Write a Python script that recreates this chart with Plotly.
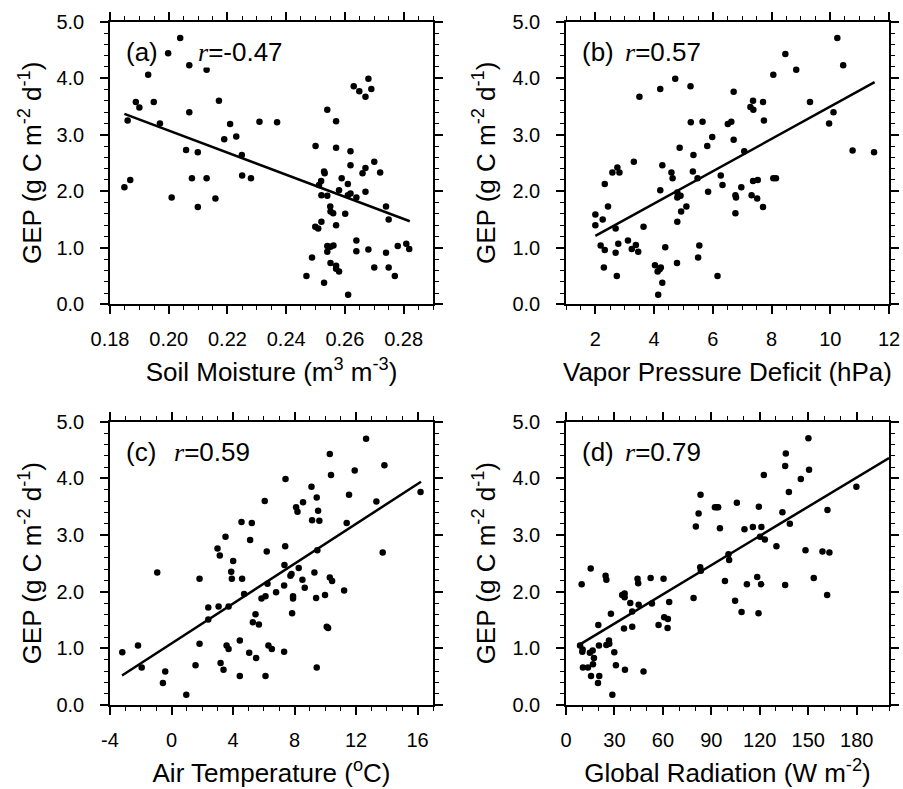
import plotly.graph_objects as go

# GEP values read per panel (g C m-2 d-1)
sm = [0.1849, 0.1869, 0.1860, 0.1888, 0.1900, 0.1949, 0.1970, 0.2039, 0.2070, 0.2129,
      0.2070, 0.2171, 0.2059, 0.2099, 0.2079, 0.2129, 0.2010, 0.2099, 0.2159, 0.2189,
      0.2209, 0.2230, 0.2249, 0.2250, 0.2280, 0.2309, 0.2369, 0.1998, 0.1930,
      0.2469, 0.2488, 0.2500, 0.2499, 0.2509, 0.2520, 0.2519, 0.2512, 0.2520, 0.2529,
      0.2531, 0.2529, 0.2540, 0.2540, 0.2540, 0.2540, 0.2551, 0.2550, 0.2551, 0.2560,
      0.2551, 0.2561, 0.2570, 0.2570, 0.2570, 0.2570, 0.2570, 0.2580, 0.2580, 0.2589,
      0.2601, 0.2610, 0.2610, 0.2611, 0.2619, 0.2619, 0.2619, 0.2630, 0.2639, 0.2639,
      0.2639, 0.2649, 0.2660, 0.2670, 0.2670, 0.2670, 0.2680, 0.2690, 0.2680, 0.2700,
      0.2700, 0.2720, 0.2740, 0.2749, 0.2740, 0.2749, 0.2770, 0.2780, 0.2809, 0.2819]
gep_sm = [2.07, 2.20, 3.25, 3.58, 3.48, 3.58, 3.20, 4.71, 4.23, 4.15,
          3.40, 3.60, 2.73, 2.69, 2.23, 2.23, 1.89, 1.72, 1.87, 2.92,
          3.19, 2.97, 2.64, 2.28, 2.23, 3.23, 3.22, 4.44, 4.06,
          0.50, 0.83, 2.80, 1.37, 1.34, 1.46, 2.18, 2.11, 1.93, 2.35,
          2.32, 0.38, 3.44, 1.92, 1.03, 0.93, 1.02, 1.73, 1.64, 1.61,
          0.73, 1.04, 3.24, 2.77, 1.40, 0.68, 0.63, 0.58, 2.02, 2.23,
          1.60, 2.13, 1.93, 0.17, 2.71, 2.46, 1.96, 3.86, 1.89, 1.13,
          0.94, 3.77, 2.32, 3.67, 2.41, 1.99, 3.99, 3.81, 0.97, 2.52,
          0.65, 2.33, 1.73, 1.50, 0.91, 0.65, 0.50, 1.03, 1.07, 0.98]

vpd = [2.00, 2.00, 2.25, 2.32, 2.18, 2.32, 2.29, 2.43, 2.58, 2.75,
       2.82, 2.69, 2.69, 2.78, 2.73, 3.11, 3.24, 3.31, 3.38, 3.46,
       3.50, 3.64, 4.03, 4.12, 4.23, 4.19, 4.28, 4.14, 4.21, 4.21,
       4.28, 4.38, 4.72, 4.59, 4.63, 4.79, 4.79, 4.79, 4.78, 4.87,
       4.90, 4.92, 5.10, 5.24, 5.25, 5.34, 5.32, 5.48, 5.54, 5.50,
       5.65, 5.81, 5.84, 5.98, 6.16, 6.27, 6.33, 6.51, 6.63, 6.71,
       6.71, 6.77, 6.79, 6.77, 6.97, 7.07, 7.28, 7.37, 7.38, 7.32,
       7.37, 7.53, 7.51, 7.71, 7.74, 7.71, 8.06, 8.06, 8.15, 8.47,
       8.84, 9.31, 9.96, 10.11, 10.24, 10.44, 10.76, 11.49]
gep_vpd = [1.59, 1.40, 1.50, 2.13, 1.04, 0.96, 0.65, 1.73, 2.33, 2.42,
           2.33, 1.34, 0.91, 1.07, 0.50, 1.13, 0.98, 2.52, 1.05, 0.93,
           3.67, 1.37, 0.69, 0.58, 0.65, 0.62, 0.38, 0.17, 3.81, 2.02,
           2.46, 1.01, 3.99, 2.33, 2.23, 1.98, 1.89, 1.46, 0.73, 2.77,
           1.92, 1.64, 1.73, 3.86, 3.22, 2.64, 2.35, 2.23, 1.04, 0.83,
           3.23, 2.80, 1.99, 2.96, 0.50, 2.28, 2.11, 3.19, 3.23, 3.76,
           2.91, 1.93, 1.89, 1.61, 2.07, 2.71, 3.49, 3.60, 3.44, 1.93,
           2.18, 2.20, 1.87, 3.58, 3.25, 1.72, 4.06, 2.23, 2.23, 4.43,
           4.15, 3.58, 3.20, 3.40, 4.71, 4.23, 2.72, 2.69]

ta = [-3.20, -2.18, -1.94, -0.93, -0.56, -0.41, 0.96, 1.56, 1.82, 1.82,
      2.39, 2.39, 2.99, 3.06, 3.14, 3.19, 3.38, 3.51, 3.58, 3.71,
      3.71, 3.88, 3.92, 4.01, 4.44, 4.44, 4.55, 4.59, 4.72, 5.05,
      5.11, 5.22, 5.29, 5.46, 5.50, 5.68, 5.85, 6.06, 6.11, 6.11,
      6.19, 6.24, 6.30, 6.52, 6.80, 7.32, 7.32, 7.34, 7.39, 7.41,
      7.73, 7.80, 7.84, 7.90, 7.90, 8.10, 8.19, 8.27, 8.51, 8.55,
      8.66, 9.10, 9.14, 9.29, 9.40, 9.44, 9.44, 9.48, 9.53, 9.61,
      9.98, 10.09, 10.18, 10.29, 10.29, 10.44, 10.37, 11.22, 11.39, 11.54,
      11.91, 12.65, 13.32, 13.73, 13.84, 16.19]
gep_ta = [0.93, 1.05, 0.66, 2.34, 0.39, 0.59, 0.18, 0.70, 2.23, 1.08,
          1.72, 1.51, 2.76, 1.74, 2.64, 0.74, 0.62, 2.97, 1.05, 1.74,
          0.99, 2.35, 2.23, 2.54, 1.14, 0.51, 3.23, 2.23, 1.96, 0.92,
          2.91, 3.21, 1.46, 1.60, 0.83, 1.42, 1.88, 3.60, 1.92, 0.51,
          2.71, 2.14, 1.05, 0.99, 1.99, 2.11, 0.94, 2.47, 2.80, 3.99,
          2.28, 2.31, 1.62, 1.92, 1.88, 3.49, 3.41, 2.42, 2.21, 3.58,
          2.07, 3.85, 3.26, 2.34, 1.89, 3.66, 0.66, 2.73, 3.43, 3.25,
          1.94, 1.38, 1.36, 4.43, 2.25, 2.19, 4.06, 2.02, 3.21, 3.71,
          4.14, 4.70, 3.59, 2.69, 4.23, 3.76]

rad = [8.7, 9.7, 10.3, 10.1, 10.5, 13.6, 14.8, 15.3, 15.5, 16.5,
       16.7, 17.3, 19.8, 20.0, 20.4, 20.6, 24.5, 25.0, 25.0, 26.6,
       26.8, 27.8, 28.7, 29.9, 30.9, 34.8, 35.9, 36.3, 36.3, 36.5,
       39.8, 41.0, 41.0, 44.3, 44.7, 45.0, 48.0, 52.4, 53.2, 57.3,
       60.4, 60.8, 63.1, 62.9, 63.9, 79.0, 80.4, 82.1, 83.3, 83.1,
       83.5, 92.2, 93.4, 94.2, 95.3, 98.4, 100.6, 101.0, 104.7, 105.8,
       108.7, 110.5, 112.0, 115.7, 118.4, 119.2, 119.4, 121.0, 120.8, 120.2,
       122.5, 123.1, 130.3, 134.0, 135.7, 136.1, 135.7, 138.0, 138.6, 145.4,
       148.3, 150.1, 150.5, 153.4, 158.8, 161.9, 161.7, 163.1, 179.8]
gep_rad = [1.05, 2.13, 0.98, 0.94, 0.66, 0.66, 0.92, 2.41, 0.51, 0.96,
           0.72, 0.83, 0.39, 1.41, 1.05, 0.51, 2.28, 2.21, 1.06, 1.14,
           1.08, 1.61, 0.18, 0.93, 0.70, 1.94, 1.35, 1.97, 1.90, 0.62,
           1.80, 1.65, 1.38, 2.23, 2.15, 1.77, 0.59, 2.24, 1.79, 1.41,
           2.23, 1.55, 1.52, 1.36, 1.82, 1.89, 3.15, 3.38, 3.71, 2.43,
           2.37, 3.49, 3.49, 3.49, 3.12, 2.19, 2.66, 2.56, 1.84, 3.57,
           1.64, 3.10, 2.13, 3.14, 2.26, 1.62, 3.50, 3.14, 2.13, 2.97,
           4.06, 2.92, 2.80, 3.40, 4.22, 4.44, 2.12, 3.76, 3.20, 3.99,
           2.73, 4.71, 4.15, 2.24, 2.71, 3.44, 1.94, 2.69, 3.85]

# regression line end points
fit_sm_x, fit_sm_y = [0.1849, 0.2821], [3.37, 1.47]
fit_vpd_x, fit_vpd_y = [2.0, 11.51], [1.21, 3.93]
fit_ta_x, fit_ta_y = [-3.22, 16.22], [0.52, 3.94]
fit_rad_x, fit_rad_y = [8.66, 200.0], [1.07, 4.36]

r_values = ["-0.47", "0.57", "0.59", "0.79"]
panel_tags = ["(a)", "(b)", "(c)", "(d)"]

# tick labels (air temperature uses a plain hyphen for negatives)
ta_ticks = [-4, 0, 4, 8, 12, 16]
ta_ticklabels = ["-4", "0", "4", "8", "12", "16"]

FONT = "Liberation Sans, Arial, sans-serif"
W, H = 903, 789


def px_dom(a, b, total):
    return [a / total, b / total]


panels = [
    dict(x=sm, y=gep_sm, fx=fit_sm_x, fy=fit_sm_y, col=(110, 433), row=(21.7, 304.3),
         xr=[0.18, 0.29], dt=0.02, mdt=0.005, fmt=".2f", ytx=30,
         title="Soil Moisture (m<sup>3</sup> m<sup>-3</sup>)", rx=0.269),
    dict(x=vpd, y=gep_vpd, fx=fit_vpd_x, fy=fit_vpd_y, col=(566, 889), row=(21.7, 304.3),
         xr=[1, 12], dt=2, mdt=0.5, fmt="d", ytx=484,
         title="Vapor Pressure Deficit (hPa)", rx=0.18),
    dict(x=ta, y=gep_ta, fx=fit_ta_x, fy=fit_ta_y, col=(110, 433), row=(421.7, 705),
         xr=[-4, 17], dt=4, mdt=1, fmt="d", ytx=30,
         title="Air Temperature (<sup>o</sup>C)", rx=0.194),
    dict(x=rad, y=gep_rad, fx=fit_rad_x, fy=fit_rad_y, col=(566, 889), row=(421.7, 705),
         xr=[0, 200], dt=30, mdt=10, fmt="d", ytx=484,
         title="Global Radiation (W m<sup>-2</sup>)", rx=0.18),
]

fig = go.Figure()
layout = {}
annotations = []
for i, p in enumerate(panels):
    n = "" if i == 0 else str(i + 1)
    fig.add_trace(go.Scatter(x=p["x"], y=p["y"], mode="markers",
                             marker=dict(size=6.5, color="black"),
                             xaxis="x" + n, yaxis="y" + n, showlegend=False))
    fig.add_trace(go.Scatter(x=p["fx"], y=p["fy"], mode="lines",
                             line=dict(color="black", width=2.5),
                             xaxis="x" + n, yaxis="y" + n, showlegend=False))
    common = dict(showline=True, linecolor="black", linewidth=1.5, mirror="ticks",
                  ticks="outside", ticklen=8, tickwidth=1.5, tickcolor="black",
                  showgrid=False, zeroline=False, automargin=False,
                  tickfont=dict(family=FONT, size=20, color="black"))
    xa = dict(
        common, domain=px_dom(*p["col"], W), anchor="y" + n, range=p["xr"],
        tick0=0, dtick=p["dt"], tickformat=p["fmt"], ticklabelstandoff=8,
        minor=dict(ticks="outside", ticklen=4, tickwidth=1, dtick=p["mdt"],
                   tick0=0, tickcolor="black"),
        title=dict(text=p["title"], standoff=14,
                   font=dict(family=FONT, size=26, color="black")))
    if i == 2:
        xa.update(tickmode="array", tickvals=ta_ticks, ticktext=ta_ticklabels)
    layout["xaxis" + n] = xa
    layout["yaxis" + n] = dict(
        common, domain=[1 - p["row"][1] / H, 1 - p["row"][0] / H], anchor="x" + n,
        range=[0, 5], dtick=1, tickformat=".1f", ticklabelstandoff=12,
        minor=dict(ticks="outside", ticklen=4, tickwidth=1, dtick=0.2,
                   tickcolor="black"))
    xref = "x" + n + " domain"
    yref = "y" + n + " domain"
    annotations.append(dict(text="GEP (g C m<sup>-2</sup> d<sup>-1</sup>)",
                            textangle=-90, xref="paper", x=p["ytx"] / W, yref=yref, y=0.5,
                            xanchor="center", yanchor="middle", showarrow=False,
                            font=dict(family=FONT, size=26, color="black")))
    annotations.append(dict(text=panel_tags[i], xref=xref, yref=yref, x=0.045, y=0.893,
                            xanchor="left", yanchor="middle", showarrow=False,
                            bgcolor="white", borderpad=0,
                            font=dict(family=FONT, size=26, color="black")))
    annotations.append(dict(
        text="<span style=\"font-family:Liberation Serif;font-style:italic\">r</span>="
             + r_values[i],
        xref=xref, yref=yref, x=p["rx"], y=0.893, xanchor="left", yanchor="middle",
        showarrow=False, bgcolor="white", borderpad=0,
        font=dict(family=FONT, size=26, color="black")))

fig.update_layout(**layout)
fig.update_layout(
    width=W, height=H,
    margin=dict(l=0, r=0, t=0, b=0),
    paper_bgcolor="white", plot_bgcolor="white",
    annotations=annotations,
)
# page body has a default 8px margin; drop it so the figure sits at the window corner
fig.write_html("out.html", config={"displayModeBar": False},
               post_script="document.body.style.margin = '0px';")
